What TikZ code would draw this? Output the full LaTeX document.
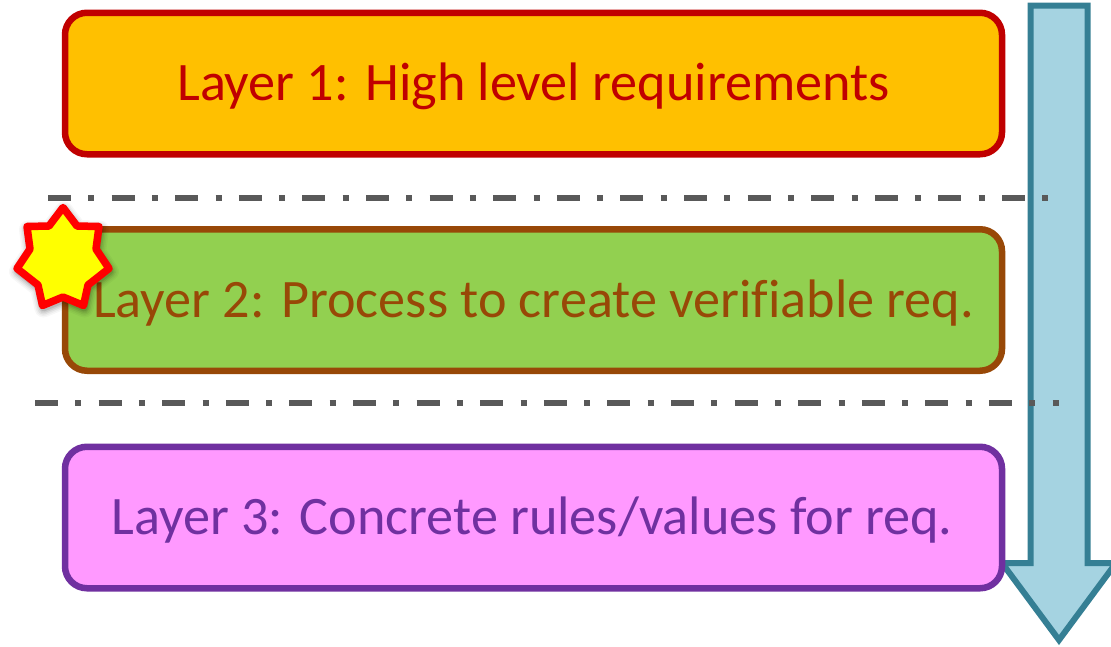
\documentclass[tikz,border=0pt]{standalone}
\usepackage{fontspec}
\setmainfont{Carlito}[Ligatures=NoCommon]
\definecolor{redline}{HTML}{C00000}
\definecolor{amberfill}{HTML}{FFC000}
\definecolor{greenfill}{HTML}{92D050}
\definecolor{brownline}{HTML}{984807}
\definecolor{pinkfill}{HTML}{FF99FF}
\definecolor{purpleline}{HTML}{7030A0}
\definecolor{arrowfill}{HTML}{A5D3E1}
\definecolor{arrowline}{HTML}{357F94}
\definecolor{sepgray}{HTML}{595959}
\definecolor{starfill}{HTML}{FFFF00}
\definecolor{starline}{HTML}{FF0000}
\tikzset{
  layerbox/.style={draw=#1, text=#1, line width=6.5pt, rounded corners=22pt, minimum width=937pt, minimum height=141.5pt, inner sep=0pt},
  layertext/.style={text=#1, font=\fontsize{54.2}{64}\selectfont, inner sep=0pt},
  sepline/.style={draw=sepgray, line width=6pt, dash pattern=on 23pt off 17.3pt on 6pt off 17.3pt},
}
\def\starpath{(63,207.5) -- (77,226) -- (99,226.5) -- (96,249) -- (109,268.5) -- (88,285) -- (83.5,305.5) -- (63,297) -- (42.5,305.5) -- (38,285) -- (17,268.5) -- (30,249) -- (27,226.5) -- (49,226) -- cycle}
\begin{document}
\begin{tikzpicture}[x=1pt,y=-1pt]
\useasboundingbox (0,0) rectangle (1111,646);
\clip (0,0) rectangle (1111,646);
% arrow
\draw[arrowline, fill=arrowfill, line width=6pt, miter limit=10]
  (1030.5,5.5) -- (1087.5,5.5) -- (1087.5,563) -- (1116,563) -- (1059,640) -- (1002,563) -- (1030.5,563) -- cycle;
% boxes
\node[layerbox=redline, fill=amberfill] (one) at (533.5,83.5) {};
\node[layerbox=brownline, fill=greenfill] (two) at (533.5,300) {};
\node[layerbox=purpleline, fill=pinkfill] (three) at (533.5,517.5) {};
\node[layertext=redline] (onet) at (533.5,86.5) {Layer 1: High level requirements};
\node[layertext=brownline] (twot) at (533.5,303) {Layer 2: Process to create verifiable req.};
\node[layertext=purpleline] (threet) at (532,520.5) {Layer 3: Concrete rules/values for req.};
% separators
\coordinate (s1a) at (48,198); \coordinate (s1b) at (1048,198);
\coordinate (s2a) at (35,403); \coordinate (s2b) at (1059,403);
\draw[sepline] (s1a) -- (s1b);
\draw[sepline] (s2a) -- (s2b);
% star shadow
\foreach \w/\o in {18/0.03,15/0.04,12/0.06,9/0.08,6/0.10}{
  \begin{scope}[shift={(1pt,-3pt)}]
    \draw[black, opacity=\o, line width=\w pt, line join=round] \starpath;
  \end{scope}
}
\draw[starline, fill=starfill, line width=7.5pt, line join=round] \starpath;
\end{tikzpicture}
\end{document}
